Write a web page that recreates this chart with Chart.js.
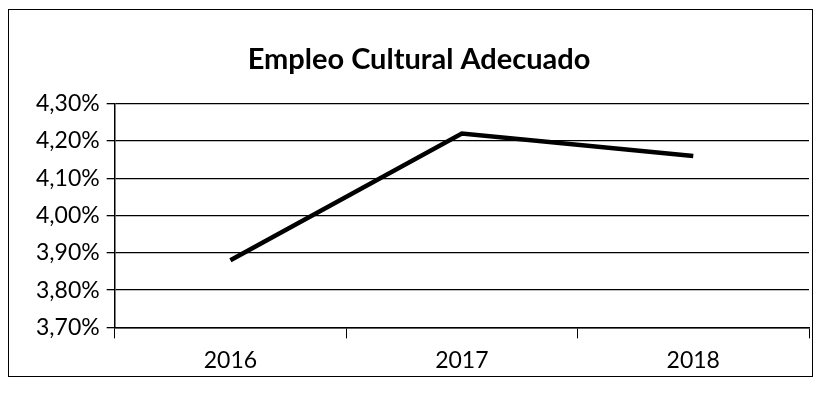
<!DOCTYPE html>
<html>
<head>
<meta charset="utf-8">
<script src="https://cdn.jsdelivr.net/npm/chart.js@4"></script>
<style>
  html, body { margin: 0; padding: 0; background: #fff; }
  #box {
    position: absolute; left: 8px; top: 9px;
    width: 805px; height: 368px;
    border: 1.5px solid #000; box-sizing: border-box;
  }
  #wrap { position: absolute; left: 0; top: 0; right: 0; bottom: 0; }
</style>
</head>
<body>
<div id="box"><div id="wrap"><canvas id="c"></canvas></div></div>
<script>
const years = ['2016', '2017', '2018'];
const empleo = [3.88, 4.22, 4.16];
const yMin = 3.70;
const yMax = 4.30;

(function(){
  const el = document.getElementById('c');

  new Chart(el, {
    type: 'line',
    data: {
      labels: years,
      datasets: [{
        label: 'Empleo Cultural Adecuado',
        data: empleo,
        borderColor: '#000',
        borderWidth: 4.5,
        pointRadius: 0,
        tension: 0,
        fill: false
      }]
    },
    options: {
      responsive: true,
      maintainAspectRatio: false,
      animation: false,
      layout: { padding: { left: 20, right: 3, top: 0, bottom: -6 } },
      plugins: {
        legend: { display: false },
        tooltip: { enabled: false },
        title: {
          display: true,
          text: 'Empleo Cultural Adecuado',
          color: '#000',
          font: { family: 'Lato', size: 29, weight: 'bold' },
          padding: { top: 32, bottom: 27 }
        }
      },
      scales: {
        x: {
          offset: true,
          grid: { offset: true, drawOnChartArea: false, drawTicks: true, tickLength: 11, color: '#000', lineWidth: 1 },
          border: { color: '#000', width: 1.5 },
          ticks: { color: '#000', font: { family: 'Lato', size: 23 }, padding: 8 }
        },
        y: {
          min: yMin,
          max: yMax,
          grid: { color: '#000', lineWidth: 1.3, drawTicks: true, tickLength: 8 },
          border: { color: '#000', width: 1.5 },
          ticks: {
            stepSize: 0.1,
            color: '#000',
            font: { family: 'Lato', size: 23 },
            padding: 7,
            callback: v => v.toFixed(2).replace('.', ',') + '%'
          }
        }
      }
    }
  });
})();
</script>
</body>
</html>
